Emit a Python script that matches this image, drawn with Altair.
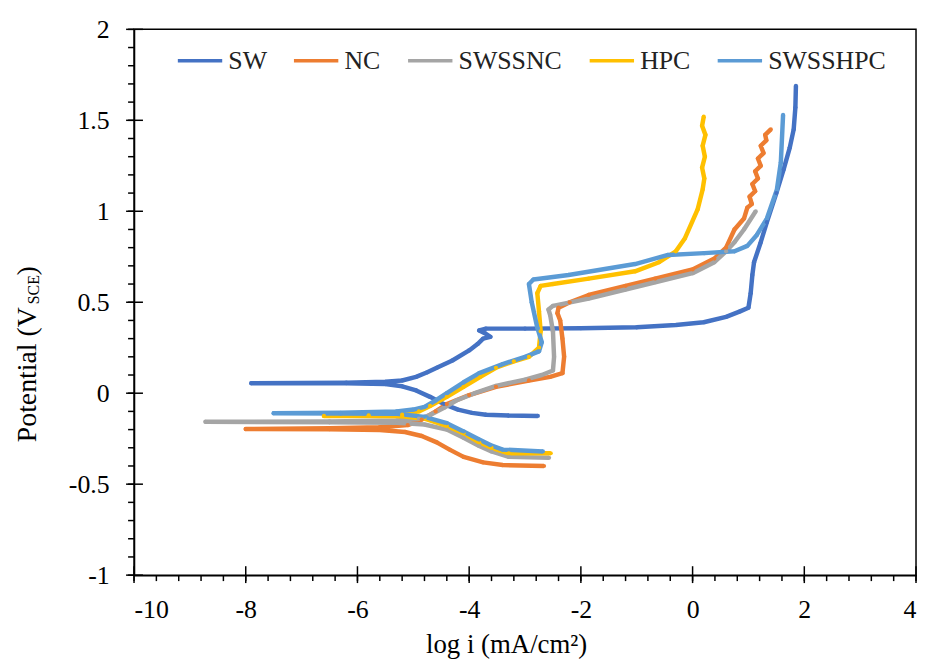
import altair as alt
import pandas as pd

FONT = "Liberation Serif"

series = ["SW", "NC", "SWSSNC", "HPC", "SWSSHPC"]
colors = ["#4472C4", "#ED7D31", "#A5A5A5", "#FFC000", "#5B9BD5"]

sw_x = [-2.77, -3.3, -3.7, -3.95, -4.2, -4.45, -4.7, -4.95, -5.2, -5.5, -6.2, -7.9,
        -6.2, -5.5, -5.2, -4.95, -4.75, -4.58, -4.3, -4.0, -3.85, -3.75, -3.62, -3.72, -3.82, -3.7,
        -3.0, -2.0, -1.0, -0.3, 0.2, 0.6, 0.85, 1.0, 1.04, 1.07, 1.1, 1.22, 1.33, 1.5, 1.63, 1.74,
        1.81, 1.84, 1.85]
sw_y = [-0.125, -0.123, -0.118, -0.108, -0.09, -0.06, -0.02, 0.015, 0.038, 0.05, 0.055, 0.055,
        0.058, 0.063, 0.07, 0.09, 0.115, 0.14, 0.18, 0.235, 0.27, 0.3, 0.31, 0.33, 0.345, 0.355,
        0.355, 0.357, 0.362, 0.375, 0.39, 0.42, 0.45, 0.47, 0.55, 0.65, 0.72, 0.83, 0.94, 1.1, 1.23, 1.35,
        1.45, 1.57, 1.69]

nc_x = [-2.66, -3.4, -3.75, -4.1, -4.35, -4.58, -4.85, -5.15, -5.6, -6.5, -8.0,
        -6.5, -5.6, -5.1, -4.85, -4.6, -4.4, -4.0, -3.52, -2.93, -2.55, -2.33, -2.3, -2.33, -2.37,
        -2.42, -2.4, -2.2, -1.86, -1.2, -0.67, 0.0, 0.39, 0.6, 0.75, 0.92, 0.98,
        1.06, 1.02, 1.12, 1.07, 1.17, 1.12, 1.22, 1.17, 1.27, 1.22, 1.32, 1.3, 1.4]
nc_y = [-0.4, -0.395, -0.38, -0.35, -0.31, -0.27, -0.235, -0.213, -0.202, -0.198, -0.197,
        -0.192, -0.187, -0.175, -0.145, -0.1, -0.06, -0.01, 0.035, 0.07, 0.09, 0.11, 0.2, 0.3, 0.4,
        0.44, 0.47, 0.5, 0.54, 0.59, 0.63, 0.68, 0.74, 0.8, 0.9, 0.96, 1.02,
        1.04, 1.08, 1.11, 1.15, 1.18, 1.22, 1.25, 1.29, 1.32, 1.36, 1.39, 1.42, 1.45]

sn_x = [-2.57, -3.29, -3.6, -3.82, -4.1, -4.4, -4.8, -5.3, -6.5, -8.72,
        -6.5, -5.3, -4.9, -4.7, -4.45, -4.23, -3.9, -3.52, -3.0, -2.7, -2.5, -2.48, -2.5, -2.55,
        -2.58, -2.5, -1.86, -1.2, -0.67, 0.0, 0.39, 0.6, 0.75, 0.92, 1.13]
sn_y = [-0.355, -0.35, -0.32, -0.29, -0.245, -0.2, -0.172, -0.162, -0.16, -0.157,
        -0.155, -0.15, -0.14, -0.12, -0.08, -0.04, 0.0, 0.04, 0.075, 0.1, 0.125, 0.2, 0.34, 0.43,
        0.46, 0.48, 0.52, 0.57, 0.61, 0.66, 0.72, 0.78, 0.83, 0.9, 1.0]

hpc_x = [-2.54, -3.29, -3.6, -3.82, -4.1, -4.4, -4.8, -5.2, -5.8, -6.6,
         -5.8, -5.2, -4.9, -4.7, -4.4, -4.1, -3.8, -3.52, -3.2, -2.93, -2.75, -2.72, -2.75, -2.78,
         -2.72, -2.5, -1.86, -1.03, -0.6, -0.3, -0.14, 0.09, 0.18, 0.21, 0.17, 0.22, 0.18, 0.23,
         0.17, 0.2]
hpc_y = [-0.33, -0.33, -0.3, -0.27, -0.22, -0.18, -0.14, -0.127, -0.125, -0.125,
         -0.122, -0.118, -0.1, -0.07, -0.02, 0.035, 0.09, 0.14, 0.175, 0.2, 0.25, 0.34, 0.45, 0.55,
         0.59, 0.6, 0.63, 0.67, 0.72, 0.78, 0.85, 1.01, 1.12, 1.18, 1.24, 1.3, 1.36, 1.42,
         1.47, 1.52]

sh_x = [-2.68, -3.4, -3.62, -3.82, -4.1, -4.4, -4.8, -5.29, -6.3, -7.5,
        -6.3, -5.3, -5.0, -4.8, -4.6, -4.4, -4.1, -3.82, -3.4, -3.0, -2.75, -2.7, -2.78, -2.88,
        -2.93, -2.85, -2.22, -1.03, -0.44, 0.21, 0.75, 0.98, 1.15, 1.33, 1.51, 1.58, 1.62]
sh_y = [-0.32, -0.31, -0.285, -0.255, -0.21, -0.165, -0.13, -0.113, -0.112, -0.11,
        -0.108, -0.1, -0.09, -0.075, -0.04, 0.0, 0.06, 0.11, 0.16, 0.2, 0.23, 0.28, 0.36, 0.5,
        0.6, 0.625, 0.65, 0.71, 0.76, 0.77, 0.78, 0.81, 0.87, 0.96, 1.12, 1.27, 1.53]

x_major = [-10, -8, -6, -4, -2, 0, 2, 4]
y_major = [-1, -0.5, 0, 0.5, 1, 1.5, 2]
x_minor = [round(-10 + 0.4 * k, 1) for k in range(36)]
y_minor = [round(-1 + 0.1 * k, 1) for k in range(31)]

x_title = "log i (mA/cm²)"
y_title_a = "Potential (V"
y_title_sub = "SCE"
y_title_b = ")"

rows = []
for name, xs_, ys_ in [("SW", sw_x, sw_y), ("NC", nc_x, nc_y), ("SWSSNC", sn_x, sn_y),
                       ("HPC", hpc_x, hpc_y), ("SWSSHPC", sh_x, sh_y)]:
    for i, (a, b) in enumerate(zip(xs_, ys_)):
        rows.append({"series": name, "logi": a, "E": b, "i": i})
df = pd.DataFrame(rows)

xs = alt.Scale(domain=[-10, 4], nice=False, zero=False)
ys = alt.Scale(domain=[-1, 2], nice=False, zero=False)

lab = "datum.value < 0 ? '-' + format(-datum.value, '~g') : format(datum.value, '~g')"

ax_x = alt.Axis(values=x_major, labelExpr=lab, ticks=False,
                domainColor="black", domainWidth=1.5, labelFont=FONT, labelFontSize=26,
                labelColor="black", labelPadding=22, grid=False, title=x_title, titleFont=FONT,
                titleFontSize=27, titleFontWeight="normal", titleColor="black", titleX=375,
                titleY=78, titleBaseline="alphabetic", titleAlign="center")
ax_y = alt.Axis(values=y_major, labelExpr=lab, ticks=False,
                domainColor="black", domainWidth=1.5, labelFont=FONT, labelFontSize=26,
                labelColor="black", labelPadding=25, grid=False, title=None)

base = alt.Chart(df)

lines = base.mark_line(strokeWidth=4.5, strokeJoin="round",
                       point=alt.OverlayMarkDef(filled=True, size=18)).encode(
    x=alt.X("logi:Q", scale=xs, axis=ax_x),
    y=alt.Y("E:Q", scale=ys, axis=ax_y),
    color=alt.Color("series:N", scale=alt.Scale(domain=series, range=colors), sort=series,
                    legend=alt.Legend(title=None, orient="none", legendX=42, legendY=7,
                                      direction="horizontal", columns=5, symbolType="stroke",
                                      symbolSize=2000, symbolStrokeWidth=3.5, labelFont=FONT,
                                      labelFontSize=26, labelColor="#222222", labelOffset=4,
                                      columnPadding=20, padding=0, labelLimit=300)),
    order="i:Q",
)

# tick marks (axis decoration) placed by the shared scales
xminor_t = alt.Chart(pd.DataFrame({"v": x_minor})).mark_rule(color="black", strokeWidth=1.5).encode(
    x=alt.X("v:Q", scale=xs, axis=ax_x), y=alt.value(550), y2=alt.value(556))
xmajor_t = alt.Chart(pd.DataFrame({"v": x_major})).mark_rule(color="black", strokeWidth=1.5).encode(
    x=alt.X("v:Q", scale=xs, axis=ax_x), y=alt.value(541), y2=alt.value(558))
yminor_t = alt.Chart(pd.DataFrame({"v": y_minor})).mark_rule(color="black", strokeWidth=1.5).encode(
    y=alt.Y("v:Q", scale=ys, axis=ax_y), x=alt.value(-6), x2=alt.value(0))
ymajor_t = alt.Chart(pd.DataFrame({"v": y_major})).mark_rule(color="black", strokeWidth=1.5).encode(
    y=alt.Y("v:Q", scale=ys, axis=ax_y), x=alt.value(-8), x2=alt.value(9))

t1 = alt.Chart(pd.DataFrame({"t": [y_title_a]})).mark_text(
    angle=270, align="left", baseline="alphabetic", font=FONT, fontSize=28, color="black"
).encode(text="t:N", x=alt.value(-99), y=alt.value(416))
t2 = alt.Chart(pd.DataFrame({"t": [y_title_sub]})).mark_text(
    angle=270, align="left", baseline="alphabetic", font=FONT, fontSize=16, color="black"
).encode(text="t:N", x=alt.value(-96), y=alt.value(277))
t3 = alt.Chart(pd.DataFrame({"t": [y_title_b]})).mark_text(
    angle=270, align="left", baseline="alphabetic", font=FONT, fontSize=28, color="black"
).encode(text="t:N", x=alt.value(-99), y=alt.value(248))

chart = alt.layer(lines, xminor_t, xmajor_t, yminor_t, ymajor_t, t1, t2, t3).properties(
    width=788, height=550,
    autosize=alt.AutoSizeParams(type="none"),
    padding={"left": 127, "top": 19, "right": 2, "bottom": 82},
    background="white",
).configure_view(stroke="black", strokeWidth=1.5)

chart.save("out.html", embed_options={"renderer": "svg", "actions": False})
